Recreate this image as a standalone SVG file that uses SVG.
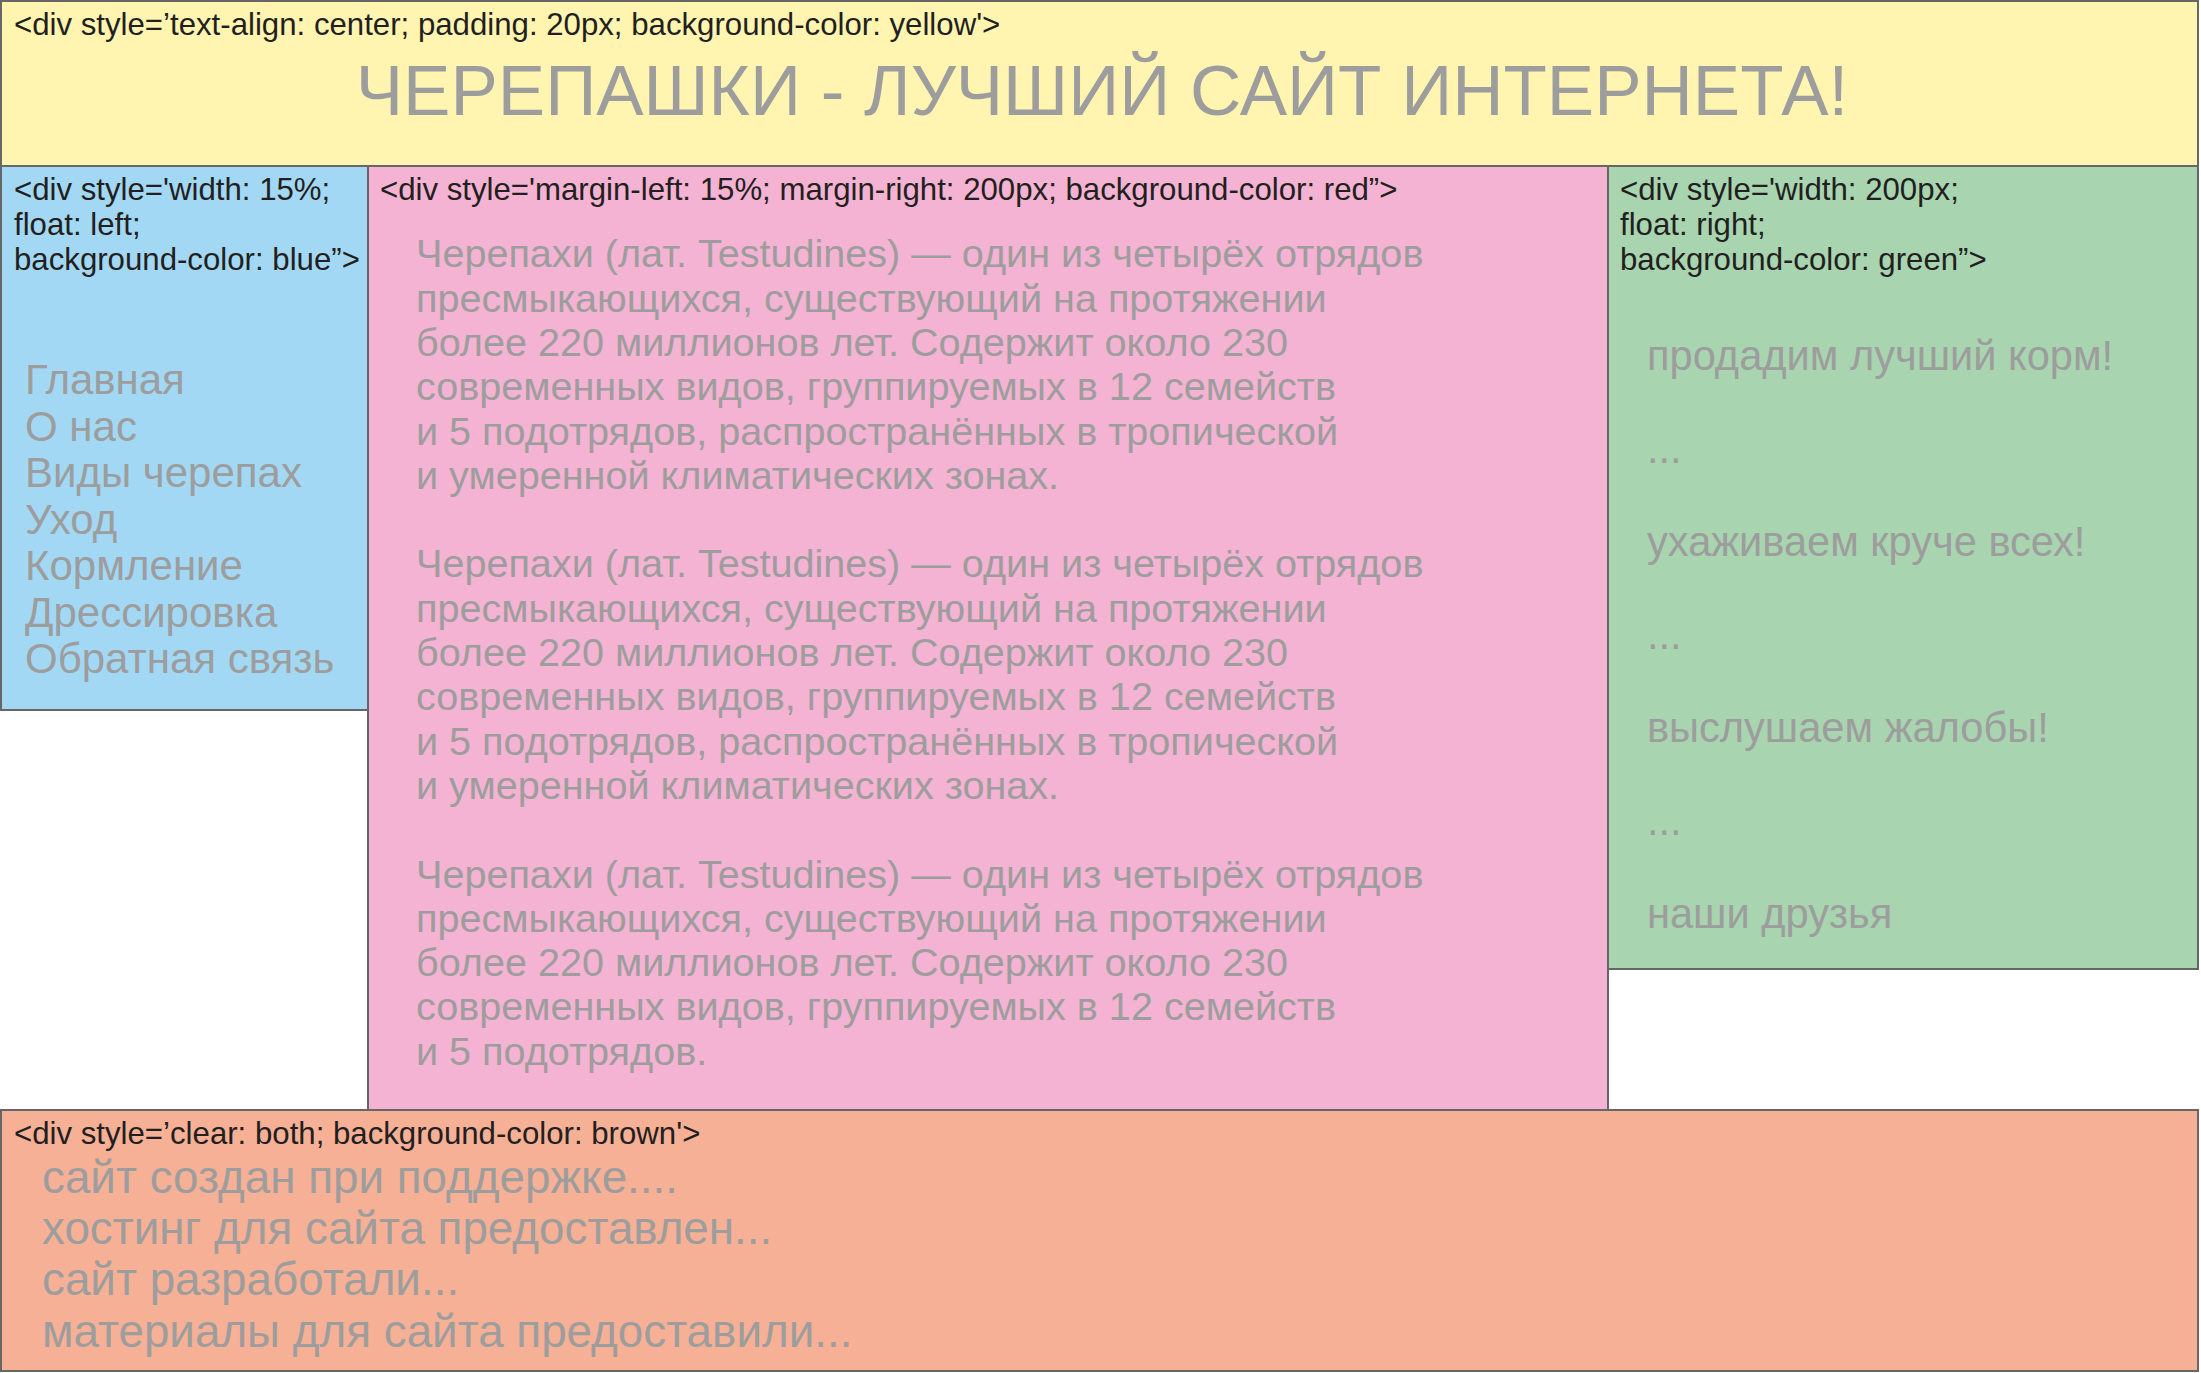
<svg xmlns="http://www.w3.org/2000/svg" width="2201" height="1373" viewBox="0 0 2201 1373">
<style>
.box{stroke:#666666;stroke-width:2}
.lbl{font-family:"Liberation Sans",Arial,sans-serif;font-size:31.2px;fill:#231f20}
.g{font-family:"Liberation Sans",Arial,sans-serif;fill:#9d9d9d}
.title{font-size:71px}
.menu{font-size:42px}
.body{font-size:39.6px}
.side{font-size:41.6px}
.foot{font-size:45.8px}
</style>
<rect width="2201" height="1373" fill="#ffffff"/>
<g id="header">
<rect class="box" x="1" y="1" width="2197" height="165" fill="#fff5b1"/>
<text class="lbl" x="14" y="35">&lt;div style=’text-align: center; padding: 20px; background-color: yellow'&gt;</text>
<text class="g title" x="1102" y="115" text-anchor="middle">ЧЕРЕПАШКИ - ЛУЧШИЙ САЙТ ИНТЕРНЕТА!</text>
</g>
<g id="left-menu">
<rect class="box" x="1" y="166" width="367" height="544" fill="#a2d8f4"/>
<text class="lbl" x="14" y="200">&lt;div style='width: 15%;</text>
<text class="lbl" x="14" y="235">float: left;</text>
<text class="lbl" x="14" y="270">background-color: blue”&gt;</text>
<text class="g menu" x="25" y="394">Главная</text>
<text class="g menu" x="25" y="440.5">О нас</text>
<text class="g menu" x="25" y="487">Виды черепах</text>
<text class="g menu" x="25" y="533.5">Уход</text>
<text class="g menu" x="25" y="580">Кормление</text>
<text class="g menu" x="25" y="626.5">Дрессировка</text>
<text class="g menu" x="25" y="673">Обратная связь</text>
</g>
<g id="right-sidebar">
<rect class="box" x="1608" y="166" width="590" height="803" fill="#a8d4b0"/>
<text class="lbl" x="1620" y="200">&lt;div style='width: 200px;</text>
<text class="lbl" x="1620" y="235">float: right;</text>
<text class="lbl" x="1620" y="270">background-color: green”&gt;</text>
<text class="g side" x="1647" y="370">продадим лучший корм!</text>
<text class="g side" x="1647" y="463">...</text>
<text class="g side" x="1647" y="556">ухаживаем круче всех!</text>
<text class="g side" x="1647" y="649">...</text>
<text class="g side" x="1647" y="742">выслушаем жалобы!</text>
<text class="g side" x="1647" y="835">...</text>
<text class="g side" x="1647" y="928">наши друзья</text>
</g>
<g id="main-content">
<rect class="box" x="368" y="166" width="1240" height="944" fill="#f4b3d2"/>
<text class="lbl" x="380" y="200">&lt;div style='margin-left: 15%; margin-right: 200px; background-color: red”&gt;</text>
<text class="g body" x="416" y="267.3">Черепахи (лат. Testudines) — один из четырёх отрядов</text>
<text class="g body" x="416" y="311.6">пресмыкающихся, существующий на протяжении</text>
<text class="g body" x="416" y="355.9">более 220 миллионов лет. Содержит около 230</text>
<text class="g body" x="416" y="400.2">современных видов, группируемых в 12 семейств</text>
<text class="g body" x="416" y="444.5">и 5 подотрядов, распространённых в тропической</text>
<text class="g body" x="416" y="488.8">и умеренной климатических зонах.</text>
<text class="g body" x="416" y="577.4">Черепахи (лат. Testudines) — один из четырёх отрядов</text>
<text class="g body" x="416" y="621.7">пресмыкающихся, существующий на протяжении</text>
<text class="g body" x="416" y="666">более 220 миллионов лет. Содержит около 230</text>
<text class="g body" x="416" y="710.3">современных видов, группируемых в 12 семейств</text>
<text class="g body" x="416" y="754.6">и 5 подотрядов, распространённых в тропической</text>
<text class="g body" x="416" y="798.9">и умеренной климатических зонах.</text>
<text class="g body" x="416" y="887.5">Черепахи (лат. Testudines) — один из четырёх отрядов</text>
<text class="g body" x="416" y="931.8">пресмыкающихся, существующий на протяжении</text>
<text class="g body" x="416" y="976.1">более 220 миллионов лет. Содержит около 230</text>
<text class="g body" x="416" y="1020.4">современных видов, группируемых в 12 семейств</text>
<text class="g body" x="416" y="1064.7">и 5 подотрядов.</text>
</g>
<g id="footer">
<rect class="box" x="1" y="1110" width="2197" height="261" fill="#f5b096"/>
<text class="lbl" x="14" y="1144">&lt;div style=’clear: both; background-color: brown'&gt;</text>
<text class="g foot" x="42" y="1193">сайт создан при поддержке....</text>
<text class="g foot" x="42" y="1244">хостинг для сайта предоставлен...</text>
<text class="g foot" x="42" y="1295">сайт разработали...</text>
<text class="g foot" x="42" y="1347">материалы для сайта предоставили...</text>
</g>
<g id="connectors"/>
</svg>
